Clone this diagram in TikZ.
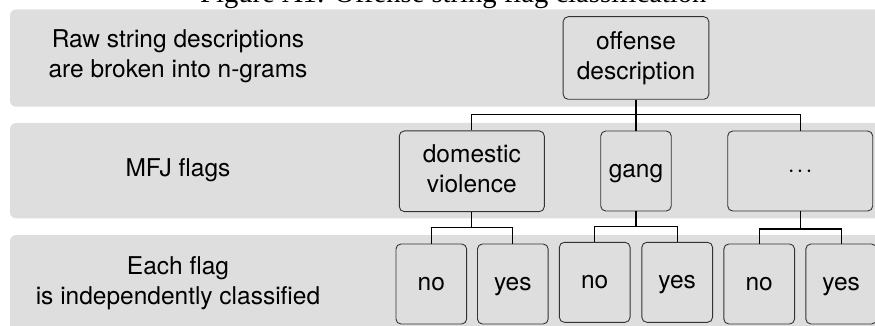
\documentclass[tikz,border=0pt]{standalone}
\usepackage{fontspec}
\setmainfont{TeX Gyre Heros}
\newfontfamily\capfont{Liberation Serif}
\definecolor{bandgray}{HTML}{DEDEDE}
\newcommand{\dgfont}{\fontsize{24.5}{30}\selectfont}
\newcommand{\dgst}{\rule[-0.24em]{0pt}{1em}}
\begin{document}
\begin{tikzpicture}[x=1pt,y=-1pt,
  band/.style={fill=bandgray, draw=none, rounded corners=6pt},
  box/.style={draw=black!80, fill=bandgray, line width=0.9pt, rounded corners=5pt, inner sep=0pt, align=center, font=\dgfont},
  leafbox/.style={box, minimum width=70.7pt, minimum height=80pt},
  lbl/.style={align=center, font=\dgfont, inner sep=0pt},
  conn/.style={draw=black, line width=1.2pt}]
\useasboundingbox (0,0) rectangle (875,326);
% bands
\fill[band] (10,9.5) rectangle (890,106.7);
\fill[band] (10,123) rectangle (890,218.3);
\fill[band] (10,235) rectangle (890,345);
% cropped caption
\node[anchor=base west, inner sep=0pt, font=\capfont\fontsize{28.6}{30}\selectfont] (title) at (200,2.5) {Figure A1: Offense string flag classification};
% row labels
\node[lbl] (l1) at (178,56.5) {Raw string descriptions\dgst\\are broken into n-grams\dgst};
\node[lbl] (l2) at (178,170.5) {MFJ flags\dgst};
\node[lbl] (l3) at (178,283.1) {Each flag\dgst\\is independently classified\dgst};
% tree nodes
\node[box, minimum width=145.7pt, minimum height=82.6pt] (off) at (636,58) {offense\dgst\\description\dgst};
\node[box, minimum width=145pt, minimum height=80.7pt] (dv) at (471.8,171.3) {domestic\dgst\\violence\dgst};
\node[box, minimum width=70.5pt, minimum height=80pt] (gang) at (636,171) {gang\dgst};
\node[box, minimum width=145pt, minimum height=80pt] (dots) at (800.2,171) {${\cdot}\kern2pt{\cdot}\kern2pt{\cdot}$\dgst};
\node[leafbox] (no1) at (431.3,284) {no\dgst};
\node[leafbox] (yes1) at (512.8,284) {yes\dgst};
\node[leafbox] (no2) at (594.7,282.3) {no\dgst};
\node[leafbox] (yes2) at (677.2,282.3) {yes\dgst};
\node[leafbox] (no3) at (759.2,284) {no\dgst};
\node[leafbox] (yes3) at (841.2,284) {yes\dgst};
% connectors
\coordinate (b1) at (636,114.3);
\draw[conn] (off.south) -- (b1);
\draw[conn] (dv.north) |- (b1) -| (dots.north);
\draw[conn] (b1) -- (gang.north);
\coordinate (b2) at (471.8,227.3);
\draw[conn] (dv.south) -- (b2);
\draw[conn] (no1.north) |- (b2) -| (yes1.north);
\coordinate (b3) at (636,226.7);
\draw[conn] (gang.south) -- (b3);
\draw[conn] (no2.north) |- (b3) -| (yes2.north);
\coordinate (b4) at (800.2,229);
\draw[conn] (dots.south) -- (b4);
\draw[conn] (no3.north) |- (b4) -| (yes3.north);
\end{tikzpicture}
\end{document}
